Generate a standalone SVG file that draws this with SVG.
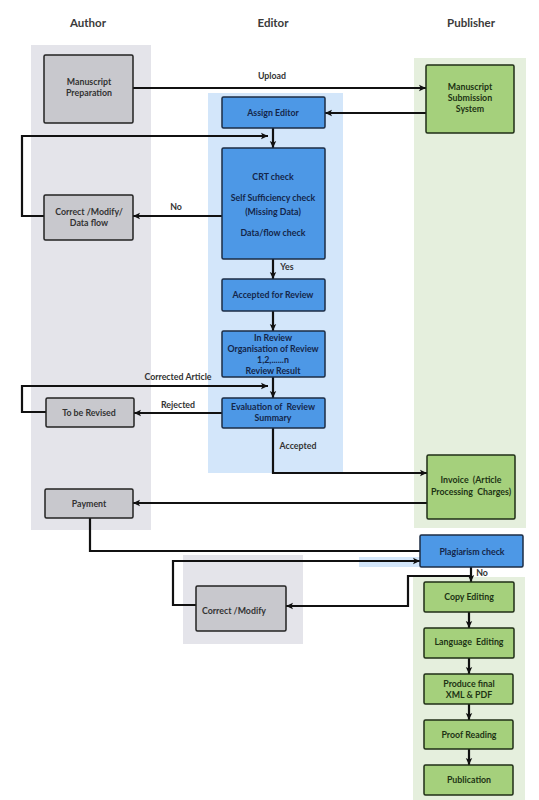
<svg xmlns="http://www.w3.org/2000/svg" width="539" height="800" viewBox="0 0 539 800">
<defs>
<style>
.hdr{font-family:Lato,"Liberation Sans",sans-serif;font-weight:700;font-size:11.5px;fill:#3a3a3a;text-anchor:middle}
.t{font-family:Lato,"Liberation Sans",sans-serif;font-weight:700;font-size:8.8px;text-anchor:middle}
.lbl{font-family:Lato,"Liberation Sans",sans-serif;font-weight:700;font-size:8.8px;fill:#333}
.gb{fill:#c8c8cd;stroke:#222;stroke-width:1.5}
.bb{fill:#4d98e6;stroke:#1c2c44;stroke-width:1.5}
.nb{fill:#a5d07c;stroke:#1f2e16;stroke-width:1.5}
.gt{fill:#333}
.bt{fill:#14264a}
.nt{fill:#1d3314}
.c{fill:none;stroke:#111;stroke-width:2.2}
</style>
<marker id="ah" markerUnits="userSpaceOnUse" markerWidth="8" markerHeight="8" refX="7" refY="4" orient="auto">
<path d="M0,0.8 L7,4 L0,7.2 L1.5,4 z" fill="#111"/>
</marker>
</defs>
<rect width="539" height="800" fill="#fff"/>
<g id="lanes">
<rect x="31" y="45" width="120" height="485" fill="#e4e4ea"/>
<rect x="208" y="93" width="135" height="380" fill="#d3e6fa"/>
<rect x="414" y="58" width="112" height="470" fill="#e5efdd"/>
<rect x="359" y="557" width="61" height="10" fill="#d3e6fa"/>
<rect x="183" y="555" width="120" height="89" fill="#e4e4ea"/>
<rect x="413" y="577" width="112" height="223" fill="#e5efdd"/>
</g>
<g id="headers">
<text class="hdr" x="88" y="27">Author</text>
<text class="hdr" x="273" y="27">Editor</text>
<text class="hdr" x="471" y="27">Publisher</text>
</g>
<g id="connectors">
<path class="c" d="M133,88 H426" marker-end="url(#ah)"/>
<path class="c" d="M426,113 H325" marker-end="url(#ah)"/>
<path class="c" d="M273,128 V148" marker-end="url(#ah)"/>
<path class="c" d="M44,216 H22 V136 H268" marker-end="url(#ah)"/>
<path class="c" d="M222,216 H133" marker-end="url(#ah)"/>
<path class="c" d="M273,259 V279" marker-end="url(#ah)"/>
<path class="c" d="M273,311 V331" marker-end="url(#ah)"/>
<path class="c" d="M273,377 V398" marker-end="url(#ah)"/>
<path class="c" d="M46,412 H22 V386 H268" marker-end="url(#ah)"/>
<path class="c" d="M222,413 H134" marker-end="url(#ah)"/>
<path class="c" d="M273,428 V473 H427" marker-end="url(#ah)"/>
<path class="c" d="M427,503 H133" marker-end="url(#ah)"/>
<path class="c" d="M90,518 V551 H420"/>
<path class="c" d="M196,605 H173 V561 H420" marker-end="url(#ah)"/>
<path class="c" d="M471,567 V582" marker-end="url(#ah)"/>
<path class="c" d="M471,576 H408 V606 H286" marker-end="url(#ah)"/>
<path class="c" d="M469,612 V628" marker-end="url(#ah)"/>
<path class="c" d="M469,658 V674" marker-end="url(#ah)"/>
<path class="c" d="M469,704 V720" marker-end="url(#ah)"/>
<path class="c" d="M469,749 V765" marker-end="url(#ah)"/>
<text class="lbl" x="272" y="79" text-anchor="middle">Upload</text>
<text class="lbl" x="176" y="210" text-anchor="middle">No</text>
<text class="lbl" x="287" y="270" text-anchor="middle">Yes</text>
<text class="lbl" x="178" y="380" text-anchor="middle">Corrected Article</text>
<text class="lbl" x="178" y="408" text-anchor="middle">Rejected</text>
<text class="lbl" x="298" y="449" text-anchor="middle">Accepted</text>
<text class="lbl" x="482" y="576" text-anchor="middle">No</text>
</g>
<g id="manuscript-preparation">
<rect class="gb" x="44" y="55" width="89" height="68" rx="1.5"/>
<text class="t gt" x="89" y="85">Manuscript</text>
<text class="t gt" x="89" y="96">Preparation</text>
</g>
<g id="manuscript-submission">
<rect class="nb" x="426" y="65" width="88" height="68" rx="1.5"/>
<text class="t nt" x="470" y="90">Manuscript</text>
<text class="t nt" x="470" y="101">Submission</text>
<text class="t nt" x="470" y="112">System</text>
</g>
<g id="assign-editor">
<rect class="bb" x="222" y="97" width="103" height="31" rx="1.5"/>
<text class="t bt" x="273" y="116">Assign Editor</text>
</g>
<g id="checks">
<rect class="bb" x="222" y="148" width="103" height="111" rx="1.5"/>
<text class="t bt" x="273" y="180">CRT check</text>
<text class="t bt" x="273" y="201">Self Sufficiency check</text>
<text class="t bt" x="273" y="215">(Missing Data)</text>
<text class="t bt" x="273" y="236">Data/flow check</text>
</g>
<g id="correct-modify-dataflow">
<rect class="gb" x="44" y="195" width="89" height="45" rx="1.5"/>
<text class="t gt" x="89" y="215">Correct /Modify/</text>
<text class="t gt" x="89" y="226">Data flow</text>
</g>
<g id="accepted-for-review">
<rect class="bb" x="222" y="279" width="103" height="32" rx="1.5"/>
<text class="t bt" x="273" y="298">Accepted for Review</text>
</g>
<g id="in-review">
<rect class="bb" x="222" y="331" width="103" height="46" rx="1.5"/>
<text class="t bt" x="273" y="341">In Review</text>
<text class="t bt" x="273" y="352">Organisation of Review</text>
<text class="t bt" x="273" y="363">1,2,......n</text>
<text class="t bt" x="273" y="374">Review Result</text>
</g>
<g id="evaluation">
<rect class="bb" x="222" y="398" width="103" height="30" rx="1.5"/>
<text class="t bt" x="273" y="410" xml:space="preserve">Evaluation of  Review</text>
<text class="t bt" x="273" y="421">Summary</text>
</g>
<g id="to-be-revised">
<rect class="gb" x="46" y="398" width="88" height="29" rx="1.5"/>
<text class="t gt" x="89" y="416">To be Revised</text>
</g>
<g id="invoice">
<rect class="nb" x="427" y="455" width="88" height="64" rx="1.5"/>
<text class="t nt" x="471" y="483" xml:space="preserve">Invoice  (Article</text>
<text class="t nt" x="471" y="495" xml:space="preserve">Processing  Charges)</text>
</g>
<g id="payment">
<rect class="gb" x="45" y="489" width="88" height="29" rx="1.5"/>
<text class="t gt" x="89" y="507">Payment</text>
</g>
<g id="plagiarism-check">
<rect class="bb" x="420" y="535" width="103" height="32" rx="1.5"/>
<text class="t bt" x="472" y="555">Plagiarism check</text>
</g>
<g id="correct-modify">
<rect class="gb" x="196" y="586" width="90" height="45" rx="1.5"/>
<text class="t gt" x="234" y="614">Correct /Modify</text>
</g>
<g id="copy-editing">
<rect class="nb" x="424" y="582" width="90" height="30" rx="1.5"/>
<text class="t nt" x="469" y="600">Copy Editing</text>
</g>
<g id="language-editing">
<rect class="nb" x="424" y="628" width="90" height="30" rx="1.5"/>
<text class="t nt" x="469" y="645" xml:space="preserve">Language  Editing</text>
</g>
<g id="produce-final">
<rect class="nb" x="424" y="674" width="89" height="30" rx="1.5"/>
<text class="t nt" x="469" y="687">Produce final</text>
<text class="t nt" x="469" y="698">XML &amp; PDF</text>
</g>
<g id="proof-reading">
<rect class="nb" x="424" y="720" width="89" height="29" rx="1.5"/>
<text class="t nt" x="469" y="738">Proof Reading</text>
</g>
<g id="publication">
<rect class="nb" x="424" y="765" width="89" height="30" rx="1.5"/>
<text class="t nt" x="469" y="783">Publication</text>
</g>
</svg>
